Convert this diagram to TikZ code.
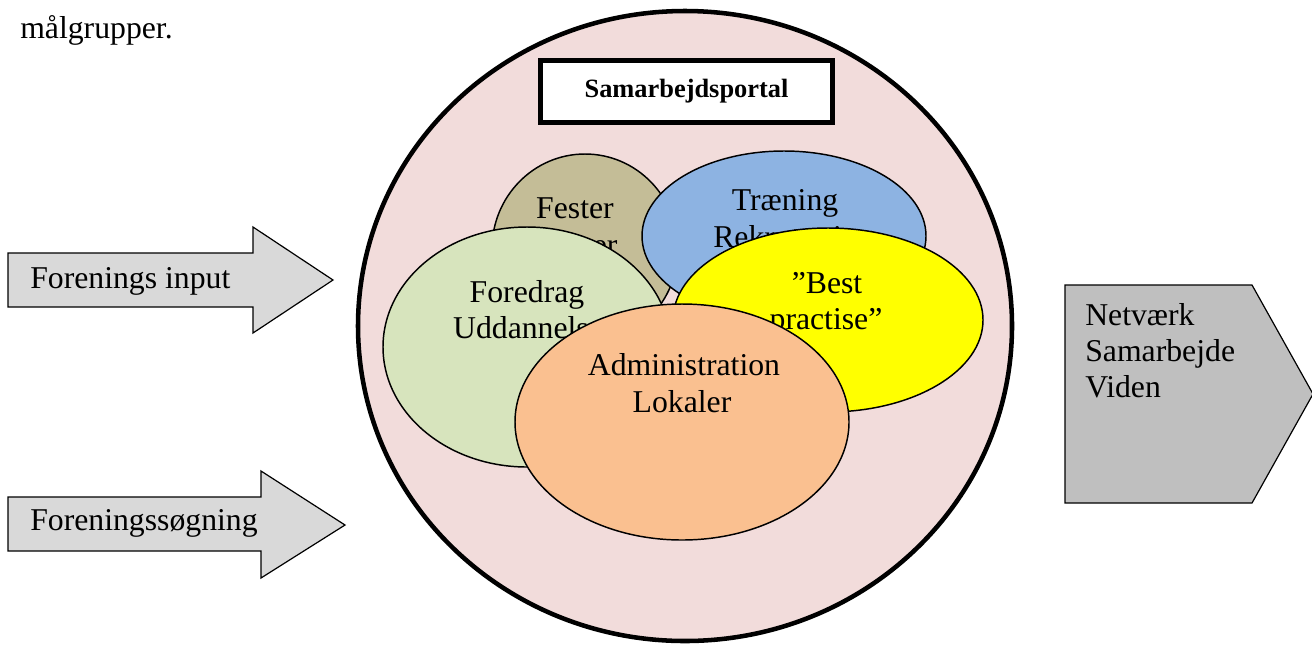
\documentclass[tikz,border=0pt]{standalone}
\usepackage{fontspec}
\setmainfont{Liberation Serif}
\usetikzlibrary{shapes.geometric}
\definecolor{portalpink}{HTML}{F2DCDB}
\definecolor{festercol}{HTML}{C4BD97}
\definecolor{traencol}{HTML}{8DB3E2}
\definecolor{foredragcol}{HTML}{D7E4BD}
\definecolor{bestcol}{HTML}{FFFF00}
\definecolor{admincol}{HTML}{FAC090}
\definecolor{arrowgray}{HTML}{D9D9D9}
\definecolor{outgray}{HTML}{BFBFBF}
\begin{document}
\begin{tikzpicture}[x=0.75pt,y=-0.75pt,
  blob/.style={ellipse, draw=black, line width=1.1pt, inner sep=0pt},
  lbl/.style={anchor=base, inner sep=0pt, font=\fontsize{23.8}{27.75}\selectfont},
  lblw/.style={anchor=base west, inner sep=0pt, font=\fontsize{23.8}{27.75}\selectfont},
  inarrow/.style={draw=black, line width=0.9pt, fill=arrowgray, line join=miter},
  outarrow/.style={draw=black, line width=0.9pt, fill=outgray, line join=miter}]
\useasboundingbox (0,0) rectangle (1312,644);
\clip (0,0) rectangle (1312,644);

% heading fragment
\node[lblw] (heading) at (20,38) {målgrupper.};

% input arrows
\draw[inarrow] (8,253) -- (253,253) -- (253,227) -- (333,280) -- (253,333) -- (253,307) -- (8,307) -- cycle;
\node[lblw] (input) at (30,288) {Forenings input};
\draw[inarrow] (8,497) -- (261,497) -- (261,471) -- (345,525) -- (261,578) -- (261,551) -- (8,551) -- cycle;
\node[lblw] (search) at (30,530) {Foreningssøgning};

% output pentagon
\draw[outarrow] (1065,285) -- (1252,285) -- (1313,394) -- (1252,503) -- (1065,503) -- cycle;
\node[lblw] (out1) at (1085,325) {Netværk};
\node[lblw] (out2) at (1085,361) {Samarbejde};
\node[lblw] (out3) at (1085,397) {Viden};

% portal circle
\node[ellipse, draw=black, line width=3.4pt, fill=portalpink, inner sep=0pt,
      minimum width=490.5pt, minimum height=472.5pt] (portal) at (685,326) {};

% title box
\node[draw=black, line width=3.6pt, fill=white, inner sep=0pt,
      minimum width=219pt, minimum height=46.5pt,
      font=\bfseries\fontsize{19.8}{24}\selectfont] (title) at (686.5,91.5) {Samarbejdsportal};

% ellipses in stacking order, each followed by its text
\node[blob, fill=festercol, minimum width=139.5pt, minimum height=142.5pt] (fester) at (585,249) {};
\node[lbl] (festerA) at (575,218) {Fester};
\node[lbl] (festerB) at (577,255) {Rejser};

\node[blob, fill=traencol, minimum width=213pt, minimum height=127.5pt] (traening) at (784,236) {};
\node[lbl] (traenA) at (785,210) {Træning};
\node[lblw] (traenB) at (713,247) {Rekruttering};

\node[blob, fill=foredragcol, minimum width=216pt, minimum height=180pt] (foredrag) at (527,347) {};
\node[lbl] (foreA) at (527,302) {Foredrag};
\node[lbl] (foreB) at (528,338) {Uddannelse};

\node[blob, fill=bestcol, minimum width=232.5pt, minimum height=138pt] (best) at (828,320) {};
\node[lbl] (bestA) at (827,293) {”Best};
\node[lbl] (bestB) at (826,329) {practise”};

\node[blob, fill=admincol, minimum width=250.5pt, minimum height=177pt] (admin) at (682,422) {};
\node[lbl] (adminA) at (684,375) {Administration};
\node[lbl] (adminB) at (682,412) {Lokaler};
\end{tikzpicture}
\end{document}
